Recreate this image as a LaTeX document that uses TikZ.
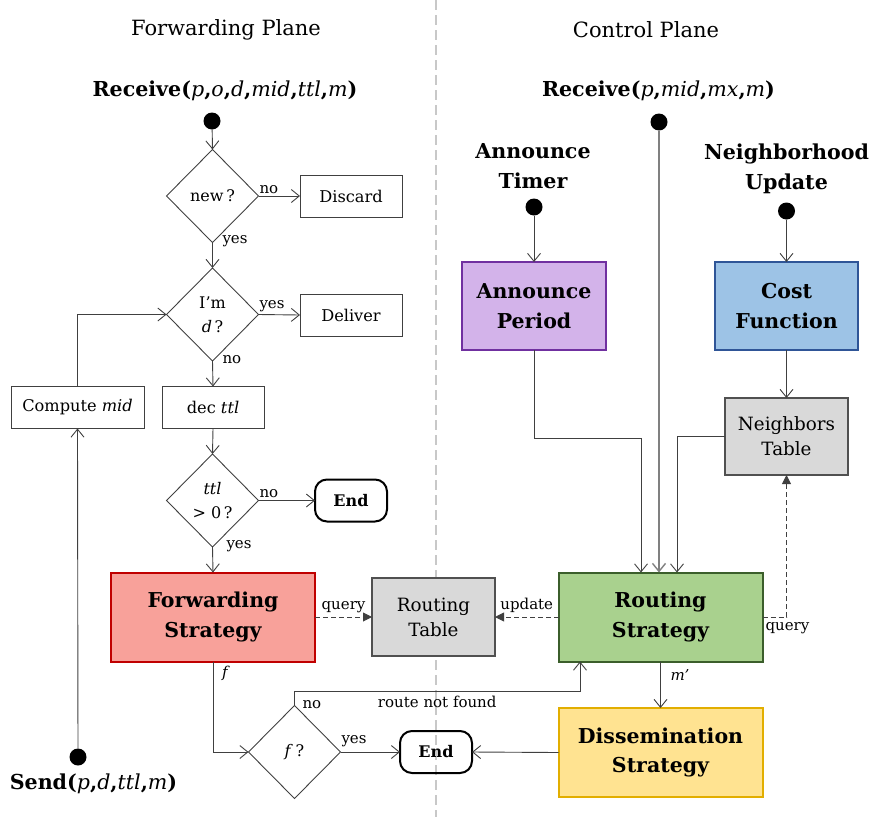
\documentclass[tikz,border=0pt]{standalone}
\usepackage{fontspec}
\setmainfont{DejaVu Serif}
\usetikzlibrary{shapes.geometric,arrows.meta}
\definecolor{fwdfill}{HTML}{F8A19A}
\definecolor{fwddraw}{HTML}{C00000}
\definecolor{rsfill}{HTML}{A9D18E}
\definecolor{rsdraw}{HTML}{3B5E2B}
\definecolor{dsfill}{HTML}{FFE391}
\definecolor{dsdraw}{HTML}{E2AE00}
\definecolor{apfill}{HTML}{D3B3EA}
\definecolor{apdraw}{HTML}{7030A0}
\definecolor{cffill}{HTML}{9DC3E6}
\definecolor{cfdraw}{HTML}{2F5597}
\definecolor{tbfill}{HTML}{D9D9D9}
\definecolor{tbdraw}{HTML}{505050}
\definecolor{divcol}{HTML}{C8C8C8}
\definecolor{linecol}{HTML}{404040}
\begin{document}
\begin{tikzpicture}[x=1pt,y=-1pt,
  every node/.style={inner sep=0pt, outer sep=0pt},
  titlef/.style={font=\fontsize{21}{24}\selectfont},
  eventf/.style={font=\fontsize{20.6}{30}\selectfont\bfseries, align=center},
  lbl/.style={font=\fontsize{15}{17}\selectfont},
  conn/.style={draw=linecol, line width=0.9pt, -{Straight Barb[length=8pt,width=13pt]}},
  dashq/.style={draw=linecol, line width=0.9pt, dash pattern=on 5pt off 3pt, -{Triangle[length=9pt,width=9pt]}},
  wbox/.style={draw=linecol, line width=0.9pt, fill=white, minimum width=102pt, minimum height=42pt, font=\fontsize{16.2}{20}\selectfont},
  decis/.style={diamond, draw=linecol, line width=0.9pt, minimum width=92pt, minimum height=93pt, align=center, font=\fontsize{16}{24}\selectfont},
  endbox/.style={draw=black, line width=2pt, rounded corners=12pt, minimum width=72pt, minimum height=42pt, font=\fontsize{16}{19}\selectfont\bfseries},
  cbox/.style={line width=2pt, minimum width=204pt, minimum height=89pt, align=center, font=\fontsize{20.5}{29.5}\selectfont\bfseries},
  tbox/.style={draw=tbdraw, fill=tbfill, line width=2pt, align=center, font=\fontsize{18.3}{25}\selectfont},
  evdot/.style={circle, fill=black, minimum size=17pt}
]
\useasboundingbox (0,0) rectangle (870,817);
% divider
\draw[divcol, line width=2pt, dash pattern=on 10pt off 5pt] (436,0) -- (436,817);

% titles
\node[titlef] (t1) at (226,30) {Forwarding Plane};
\node[titlef] (t2) at (646,30) {Control Plane};

% ---------- Forwarding plane ----------
\node[eventf] (rcv1) at (225,91) {Receive(\textit{\mdseries p},\textit{\mdseries o},\textit{\mdseries d},\textit{\mdseries mid},\textit{\mdseries ttl},\textit{\mdseries m})};
\node[evdot] (d1) at (212,121) {};
\node[decis] (new) at (212.5,196) {new\,?};
\node[wbox] (discard) at (351,196) {Discard};
\node[decis] (imd) at (212.5,314.5) {I’m\\\textit{d}\,?};
\node[wbox] (deliver) at (351,315) {Deliver};
\node[wbox] (decttl) at (213,407.5) {dec \textit{ttl}};
\node[wbox, minimum width=133pt] (cmid) at (77.5,407.5) {Compute \textit{mid}};
\node[decis] (ttl) at (212.5,500.5) {\textit{ttl}\\> 0\,?};
\node[endbox] (end1) at (351,500.5) {End};
\node[cbox, draw=fwddraw, fill=fwdfill] (fs) at (213,617) {Forwarding\\Strategy};
\node[tbox, minimum width=123pt, minimum height=78pt] (rt) at (433.5,617) {Routing\\Table};
\node[decis] (fq) at (294.5,752) {\textit{f}\,?};
\node[endbox] (end2) at (436,752) {End};
\node[evdot] (d2) at (78,757) {};
\node[eventf] (send) at (93.5,784) {Send(\textit{\mdseries p},\textit{\mdseries d},\textit{\mdseries ttl},\textit{\mdseries m})};

% ---------- Control plane ----------
\node[eventf] (rcv2) at (658.5,91) {Receive(\textit{\mdseries p},\textit{\mdseries mid},\textit{\mdseries mx},\textit{\mdseries m})};
\node[evdot] (d3) at (659,122) {};
\node[eventf] (at) at (533,166) {Announce\\Timer};
\node[evdot] (d4) at (534,207) {};
\node[cbox, draw=apdraw, fill=apfill, minimum width=144pt, minimum height=88pt] (ap) at (534,306) {Announce\\Period};
\node[eventf] (nu) at (786.5,169) {Neighborhood\\Update};
\node[evdot] (d5) at (786.5,211) {};
\node[cbox, draw=cfdraw, fill=cffill, minimum width=143pt, minimum height=88pt] (cf) at (786.5,306) {Cost\\Function};
\node[tbox, minimum width=123pt, minimum height=77pt] (nt) at (786.5,436.5) {Neighbors\\Table};
\node[cbox, draw=rsdraw, fill=rsfill] (rs) at (660.5,617) {Routing\\Strategy};
\node[cbox, draw=dsdraw, fill=dsfill] (ds) at (660.5,752.5) {Dissemination\\Strategy};

% ---------- connectors: forwarding ----------
\draw[conn] (d1) -- (new.north);
\draw[conn] (new.east) -- node[lbl, pos=0, anchor=south west, xshift=1pt, yshift=2pt] {no} (discard.west);
\draw[conn] (new.south) -- node[lbl, pos=0, anchor=west, xshift=10pt, yshift=1pt] {yes} (imd.north);
\draw[conn] (imd.east) -- node[lbl, pos=0, anchor=south west, xshift=1pt, yshift=3pt] {yes} (deliver.west);
\draw[conn] (imd.south) -- node[lbl, pos=0, anchor=west, xshift=10pt, yshift=1pt] {no} (decttl.north);
\draw[conn] (decttl.south) -- (ttl.north);
\draw[conn] (ttl.east) -- node[lbl, pos=0, anchor=south west, xshift=1pt, yshift=3pt] {no} (end1.west);
\draw[conn] (ttl.south) -- node[lbl, pos=0, anchor=west, xshift=14pt, yshift=1pt] {yes} (fs.north);
\draw[conn] (cmid.north) |- (imd.west);
\draw[conn] (d2) -- (cmid.south);
\draw[dashq] (fs.east) -- node[lbl, anchor=south, yshift=4pt] {query} (rt.west);
\draw[conn] (fs.south) |- node[lbl, pos=0, anchor=north west, xshift=9pt, yshift=-5pt] {\textit{f}} (fq.west);
\draw[conn] (fq.east) -- node[lbl, pos=0, anchor=south west, xshift=1pt, yshift=5pt] {yes} (end2.west);
\coordinate (b1) at (294.5,691);
\coordinate (b2) at (580,691);
\draw[conn] (fq.north) -- node[lbl, pos=0, anchor=west, xshift=8pt, yshift=1pt] {no} (b1) -- node[lbl, anchor=north, yshift=-5pt] {route not found} (b2) -- (b2 |- rs.south);

% ---------- connectors: control ----------
\draw[dashq] (rs.west) -- node[lbl, anchor=south, yshift=4pt] {update} (rt.east);
\draw[dashq] (rs.east) -| node[lbl, pos=0, anchor=north west, xshift=3pt, yshift=-5pt] {query} (nt.south);
\draw[conn] (rs.south) -- node[lbl, pos=0, anchor=north west, xshift=10pt, yshift=-8pt] {\textit{m’}} (ds.north);
\draw[conn] (ds.west) -- (end2.east);
\draw[conn] (d4) -- (ap.north);
\draw[conn] (d5) -- (cf.north);
\draw[conn] (cf.south) -- (nt.north);
\coordinate (c1) at (641,438);
\draw[conn] (ap.south) |- (c1) -- (c1 |- rs.north);
\coordinate (c2) at (677,438);
\draw[conn] (nt.west) -| (c2 |- rs.north);
\draw[conn, draw=gray, line width=1.4pt] (d3) -- (d3 |- rs.north);
\end{tikzpicture}
\end{document}
